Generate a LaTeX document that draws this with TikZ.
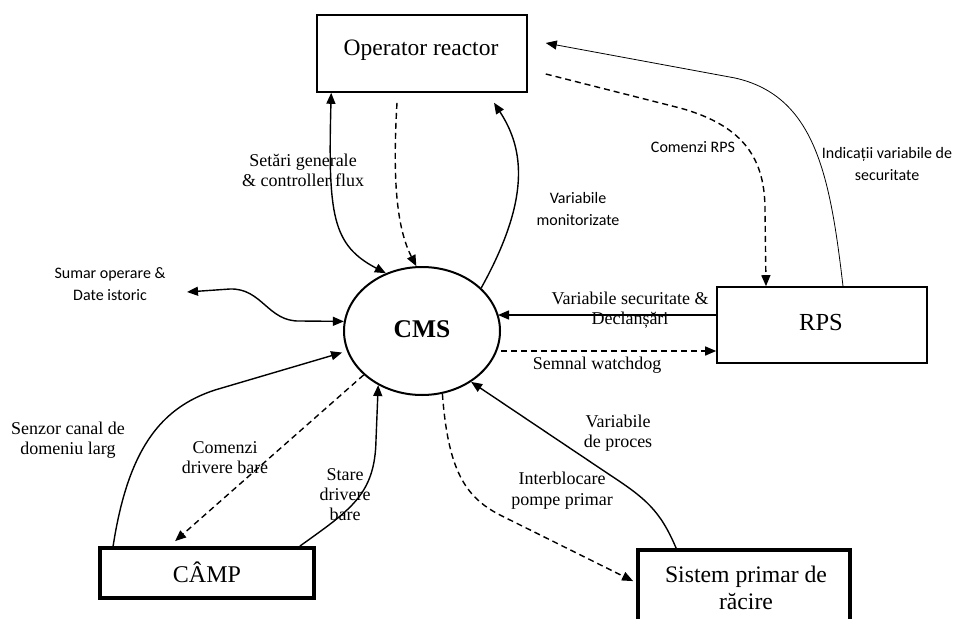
\documentclass[tikz,border=0pt]{standalone}
\usepackage{fontspec}
\setmainfont{Liberation Serif}
\newfontfamily\sansf{Carlito}
\usetikzlibrary{shapes.geometric,arrows.meta,calc}
\begin{document}
\begin{tikzpicture}[x=1pt,y=-1pt,
  conn/.style={line width=1.4pt,-{Triangle[length=11pt,width=9pt]}},
  bothconn/.style={line width=1.4pt,{Triangle[length=11pt,width=9pt]}-{Triangle[length=11pt,width=9pt]}},
  dconn/.style={conn,dash pattern=on 6pt off 4pt},
  thinconn/.style={line width=0.8pt,-{Triangle[length=11pt,width=9pt]}},
  thinbox/.style={draw,line width=1.6pt,inner sep=0pt},
  thickbox/.style={draw,line width=3.8pt,inner sep=0pt},
  slab/.style={font=\fontsize{18}{20}\selectfont,align=center,inner sep=0pt},
  sanslab/.style={font=\sansf\fontsize{16}{22}\selectfont,align=center,inner sep=0pt}
]
\useasboundingbox (0,0) rectangle (955,618);
\clip (0,0) rectangle (955,618);

% nodes
\node[thinbox,minimum width=210pt,minimum height=77pt] (op) at (422,53.5) {};
\node[font=\fontsize{23.5}{28}\selectfont,inner sep=0pt] (optxt) at (421,50) {Operator reactor};
\node[draw,ellipse,line width=2pt,minimum width=156pt,minimum height=128pt,inner sep=0pt] (cms) at (422,331) {};
\node[font=\bfseries\fontsize{25.5}{28}\selectfont,inner sep=0pt] (cmstxt) at (422,329) {CMS};
\node[thinbox,minimum width=210pt,minimum height=76pt] (rps) at (822,325) {};
\node[font=\fontsize{24.5}{28}\selectfont,inner sep=0pt] (rpstxt) at (821,323) {RPS};
\node[thickbox,minimum width=214pt,minimum height=50pt] (camp) at (207,573) {};
\node[font=\fontsize{24}{28}\selectfont,inner sep=0pt] (camptxt) at (207,572) {CÂMP};
\node[thickbox,minimum width=212pt,minimum height=100pt] (sis) at (744,600) {};
\node[font=\fontsize{23.7}{27}\selectfont,align=center,inner sep=0pt] (sistxt) at (746,588) {Sistem primar de\\răcire};
\coordinate (sumar) at (187,292);

% connectors
\draw[bothconn] ([xshift=15pt]op.south west) .. controls (328,215) and (332,245) .. (cms.122);
\draw[dconn] ($(op.south)+(-25,10)$) .. controls (393,170) and (395,225) .. (cms.95);
\draw[conn] (cms.36) .. controls (530,200) and (525,150) .. ($(op.south)+(72,10)$);
\draw[thinconn] ([xshift=21pt]rps.north) .. controls (830,175) and (815,96) .. (735,78) -- ($(op.east)+(18,-10.5)$);
\draw[dconn] ($(op.east)+(18,20.5)$) -- (680,108) .. controls (745,126) and (765,160) .. (765,210) -- ([xshift=-56pt]rps.north);
\draw[conn,shorten >=-3pt] ([yshift=10pt]rps.west) -- ([yshift=10pt]rps.west -| cms.east);
\draw[dconn] ([yshift=-26pt]rps.west -| cms.east) -- ([yshift=-26pt]rps.west);
\draw[conn] ([xshift=40pt]sis.north west) .. controls (660,510) and (645,498) .. (610,475) -- (cms.-46);
\draw[dconn] (cms.-72) .. controls (448,470) and (465,497) .. (500,515) -- ([xshift=-3pt,yshift=-33pt]sis.north west);
\draw[conn] ([xshift=-16pt]camp.north east) .. controls (350,510) and (375,495) .. (376,440) -- (cms.231);
\draw[dconn] (cms.217) -- ([xshift=77pt,yshift=5pt]camp.north west);
\draw[conn,shorten >=5pt] ([xshift=15pt]camp.north west) .. controls (128,450) and (160,408) .. (215,390) -- (cms.195);
\draw[bothconn] (sumar) -- (230,289) .. controls (262,288) and (268,322) .. (300,321) -- (cms.173);

% labels
\node[slab] (l1) at (303,170) {Setări generale\\\& controller flux};
\node[sanslab] (l2) at (578,209) {Variabile\\monitorizate};
\node[sanslab] (l3) at (693,147) {Comenzi RPS};
\node[sanslab] (l4) at (887,164) {Indicații variabile de\\securitate};
\node[sanslab] (l5) at (110,284) {Sumar operare \&\\Date istoric};
\node[slab] (l6) at (630,310) {Variabile securitate \&\\Declanșări};
\node[slab] (l7) at (597,365) {Semnal watchdog};
\node[slab] (l8) at (68,440) {Senzor canal de\\domeniu larg};
\node[slab] (l9) at (225,458) {Comenzi\\drivere bare};
\node[slab] (l10) at (345,495) {Stare\\drivere\\bare};
\node[slab] (l11) at (618,433) {Variabile\\de proces};
\node[slab,font=\fontsize{18}{21}\selectfont] (l12) at (562,491) {Interblocare\\pompe primar};
\end{tikzpicture}
\end{document}
